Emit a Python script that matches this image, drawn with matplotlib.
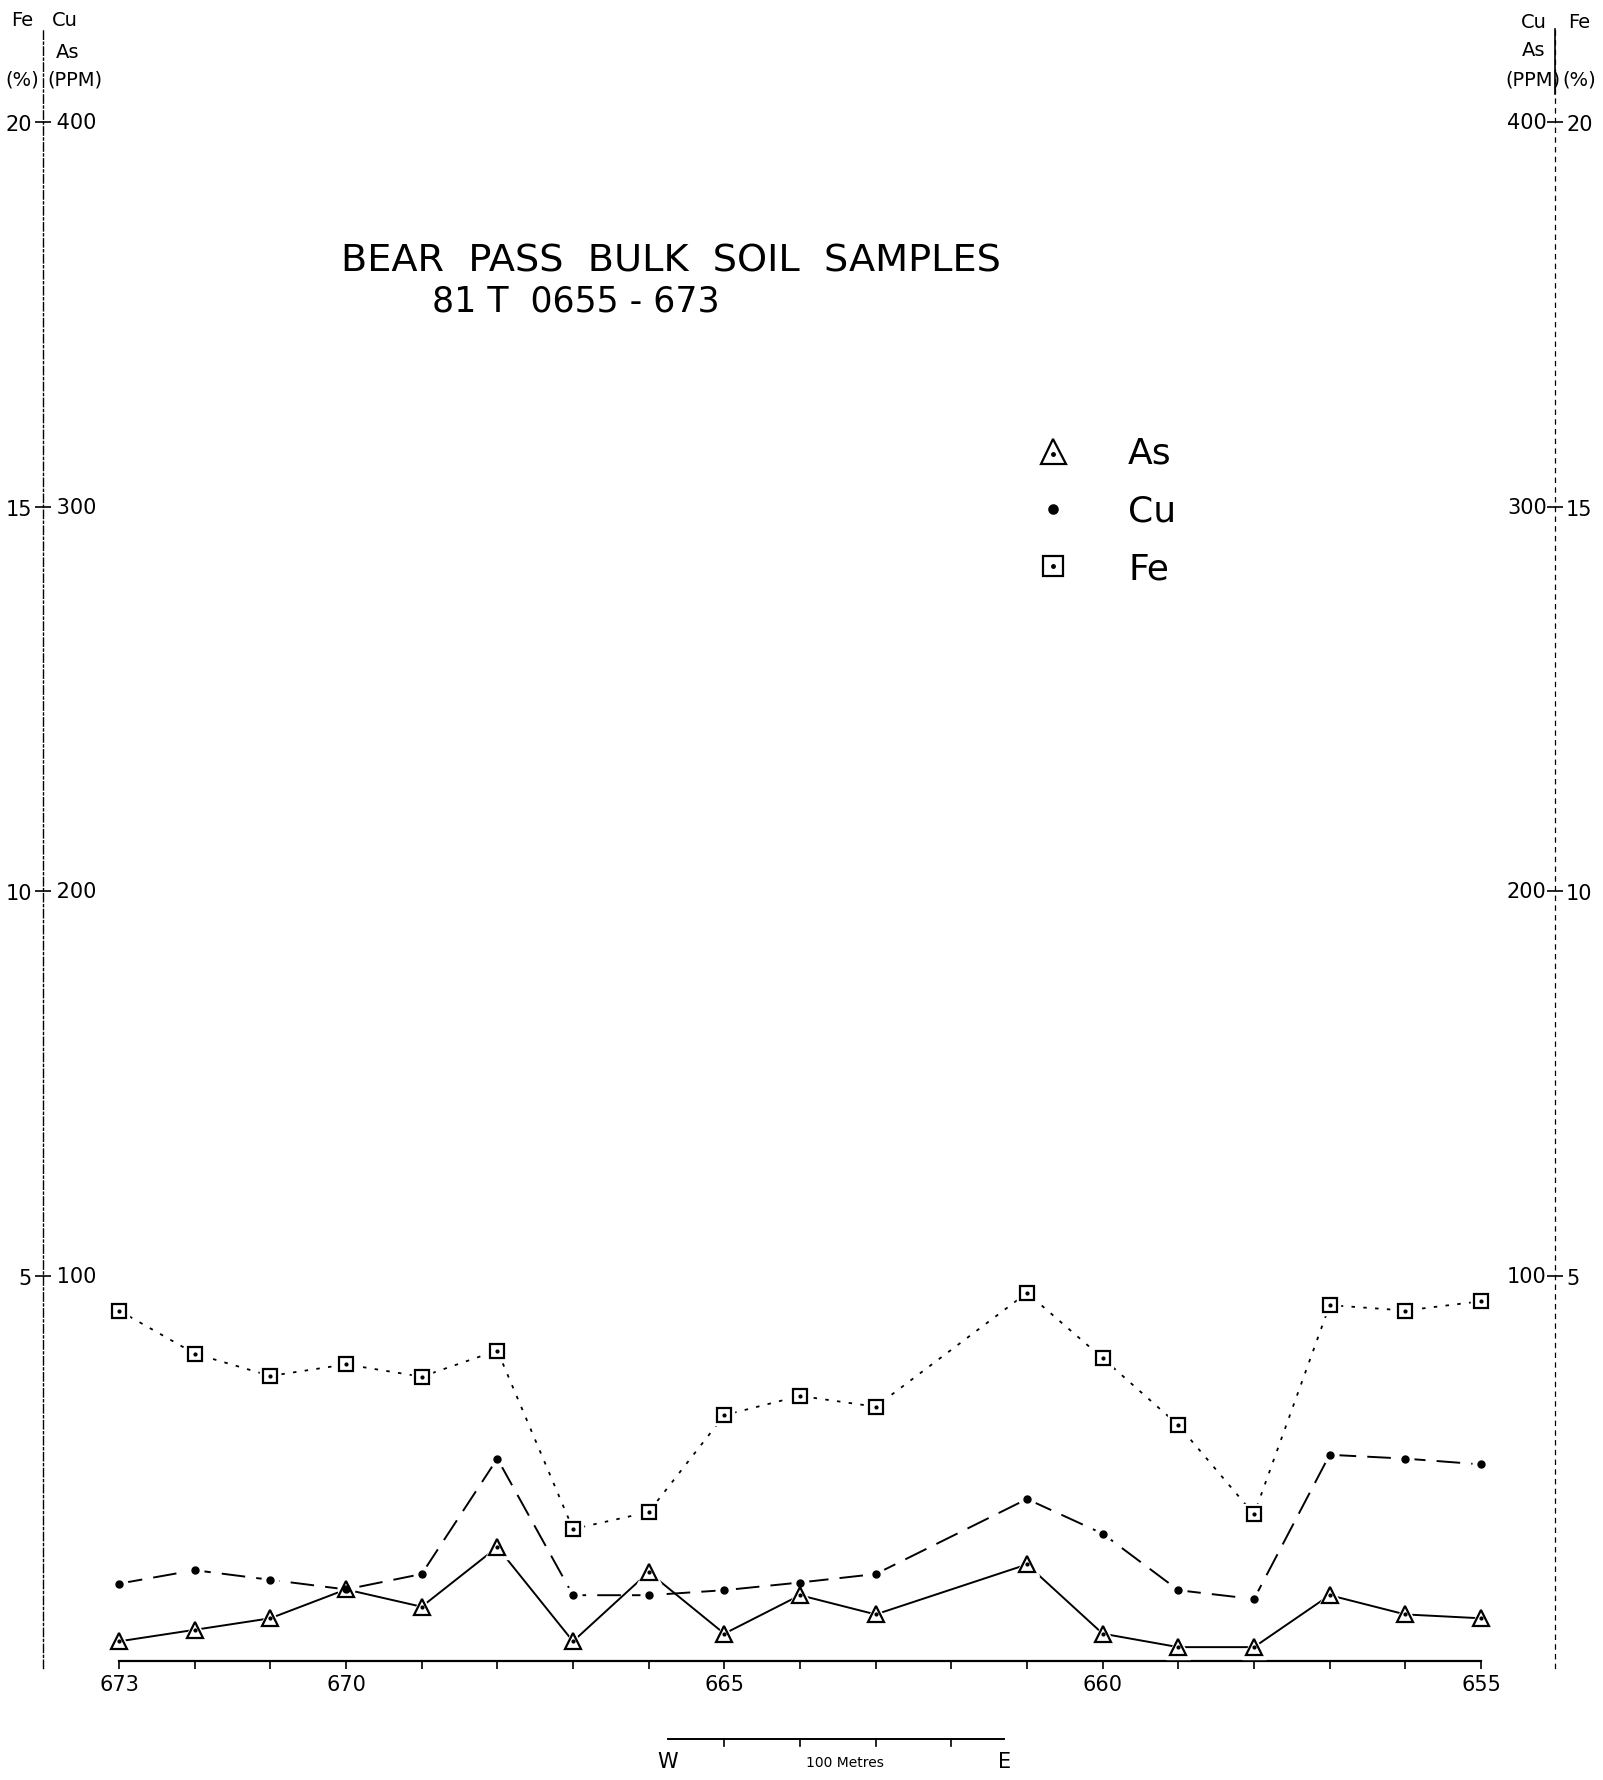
import matplotlib
matplotlib.use("Agg")
import matplotlib.pyplot as plt
import numpy as np
from matplotlib.lines import Line2D
from matplotlib import transforms

# Sample numbers 81T0655 - 673 (no result for 662)
samples = [673, 672, 671, 670, 669, 668, 667, 666, 665, 664, 663,
           661, 660, 659, 658, 657, 656, 655]
as_ppm = [5, 8, 11, 18.5, 14, 29.5, 5, 23, 7, 17, 12,
          25, 7, 3.5, 3.5, 17, 12, 11]
cu_ppm = [20, 23.5, 21, 18.5, 22.5, 52.5, 17, 17, 18.3, 20.3, 22.5,
          42, 33, 18.3, 16, 53.5, 52.5, 51]
fe_pct = [4.55, 3.99, 3.70, 3.85, 3.69, 4.03, 1.71, 1.93, 3.19, 3.44, 3.30,
          4.78, 3.93, 3.06, 1.90, 4.62, 4.55, 4.67]

ppm_ticks = [100, 200, 300, 400]
pct_ticks = [5, 10, 15, 20]
x_labelled = [673, 670, 665, 660, 655]
all_stations = list(range(655, 674))

plt.rcParams['font.family'] = ['DejaVu Sans']
plt.rcParams['lines.scale_dashes'] = False

W, H = 1603, 1781
fig = plt.figure(figsize=(W / 100, H / 100), dpi=100)

# axes frame in pixels: left spine x=43, right spine x=1555
y_zero_px = 1661.6
px_per_ppm = 3.847
y_lo, y_hi = -2.0, 424.0
bot_px = y_zero_px - y_lo * px_per_ppm
top_px = y_zero_px - y_hi * px_per_ppm
ax = fig.add_axes([43 / W, (H - bot_px) / H, (1555 - 43) / W, (bot_px - top_px) / H])

x_left_px, x_right_px = 119, 1481
step = (x_right_px - x_left_px) / 18.0
ax.set_xlim(673 + (x_left_px - 43) / step, 655 - (1555 - x_right_px) / step)
ax.set_ylim(y_lo, y_hi)

fe_ppm = np.array(fe_pct) * 20.0  # 20 % Fe = 400 ppm on the shared scale

# lines
ax.plot(samples, as_ppm, color='black', lw=1.4, zorder=2)
ax.plot(samples, cu_ppm, color='black', lw=1.4, dashes=(17, 8), zorder=2)
ax.plot(samples, fe_ppm, color='black', lw=1.3, dashes=(2.5, 6), zorder=2)

# white halos so the lines stop short of the symbols
ax.plot(samples, as_ppm, ls='none', marker='^', ms=17, mfc='white', mec='white', zorder=3)
ax.plot(samples, cu_ppm, ls='none', marker='o', ms=12, mfc='white', mec='white', zorder=3)
ax.plot(samples, fe_ppm, ls='none', marker='s', ms=15, mfc='white', mec='white', zorder=3)

# symbols
ax.plot(samples, as_ppm, ls='none', marker='^', ms=11, mfc='white', mec='black', mew=1.6, zorder=4)
ax.plot(samples, as_ppm, ls='none', marker='o', ms=2, color='black', zorder=5)
ax.plot(samples, cu_ppm, ls='none', marker='o', ms=5, color='black', zorder=4)
ax.plot(samples, fe_ppm, ls='none', marker='s', ms=10, mfc='white', mec='black', mew=1.6, zorder=4)
ax.plot(samples, fe_ppm, ls='none', marker='o', ms=2, color='black', zorder=5)

# spines
ax.spines['top'].set_visible(False)
ax.spines['left'].set_linestyle((0, (6, 2, 1.5, 2)))
ax.spines['left'].set_linewidth(1.0)
ax.spines['right'].set_linestyle((0, (3, 4)))
ax.spines['right'].set_linewidth(0.9)
ax.spines['bottom'].set_position(('data', 0))
ax.spines['bottom'].set_bounds(655, 673)
ax.spines['bottom'].set_linewidth(1.6)

# x ticks
ax.set_xticks(x_labelled)
ax.set_xticklabels([str(v) for v in x_labelled])
ax.set_xticks(all_stations, minor=True)
ax.tick_params(axis='x', which='both', direction='out', length=6, width=1.2,
               labelsize=15, pad=4)

# y ticks: Fe % labels outside both spines
ax.set_yticks(ppm_ticks)
ax.set_yticklabels([str(v) for v in pct_ticks])
ax.tick_params(axis='y', which='major', direction='inout', length=12, width=1.2,
               left=True, right=True, labelleft=True, labelright=True,
               labelsize=15, pad=2)

# ppm labels just inside each spine
yt = transforms.blended_transform_factory(ax.transAxes, ax.transData)
for v in ppm_ticks:
    ax.text(0, v, ' ' + str(v), transform=transforms.offset_copy(yt, fig, x=5, units='points'),
            ha='left', va='center', fontsize=15)
    ax.text(1, v, str(v), transform=transforms.offset_copy(yt, fig, x=-6, units='points'),
            ha='right', va='center', fontsize=15)

# short solid piece of the right axis between its headings
fig.add_artist(Line2D([1555 / W, 1555 / W], [1 - 30 / H, 1 - 95 / H], color='black', lw=1.2,
                      transform=fig.transFigure))

# axis headings
def ftext(x, y, s, size=14, ha='center'):
    fig.text(x / W, 1 - y / H, s, ha=ha, va='center', fontsize=size)

ftext(22, 20, 'Fe')
ftext(65, 20, 'Cu')
ftext(68, 52, 'As')
ftext(22, 80, '(%)')
ftext(75, 80, '(PPM)')
ftext(1534, 22, 'Cu')
ftext(1579, 22, 'Fe')
ftext(1534, 50, 'As')
ftext(1533, 80, '(PPM)')
ftext(1579, 80, '(%)')

# title
ftext(341, 262, 'BEAR  PASS  BULK  SOIL  SAMPLES', size=27.5, ha='left')
ftext(432, 301, '81 T  0655 - 673', size=25, ha='left')

# legend
leg_items = [('^', 'As', 452, 18, 'white'), ('o', 'Cu', 510, 6, 'black'), ('s', 'Fe', 567, 15, 'white')]
for mk, name, yy, ms, fc in leg_items:
    fig.add_artist(Line2D([1053 / W], [1 - yy / H], marker=mk, ms=ms, mfc=fc, mec='black',
                          mew=1.6, ls='none', transform=fig.transFigure))
    if fc == 'white':
        fig.add_artist(Line2D([1053 / W], [1 - (yy + (3 if mk == '^' else 0)) / H], marker='o',
                              ms=2.5, color='black', ls='none', transform=fig.transFigure))
    ftext(1128, yy + 2, name, size=26, ha='left')

# scale bar: 100 metres, in station units
bar_from, bar_to = 665.75, 661.3
bar_y = -20.5
ax.plot([bar_from, bar_to], [bar_y, bar_y], color='black', lw=1.4, clip_on=False)
for t in [665, 664, 663, 662]:
    ax.plot([t, t], [bar_y, bar_y - 1.6], color='black', lw=1.2, clip_on=False)
ax.text(bar_from, bar_y - 3, 'W', ha='center', va='top', fontsize=15)
ax.text(bar_to, bar_y - 3, 'E', ha='center', va='top', fontsize=15)
ax.text(663.4, bar_y - 4, '100 Metres', ha='center', va='top', fontsize=10)

fig.savefig('out.png', dpi=100)
